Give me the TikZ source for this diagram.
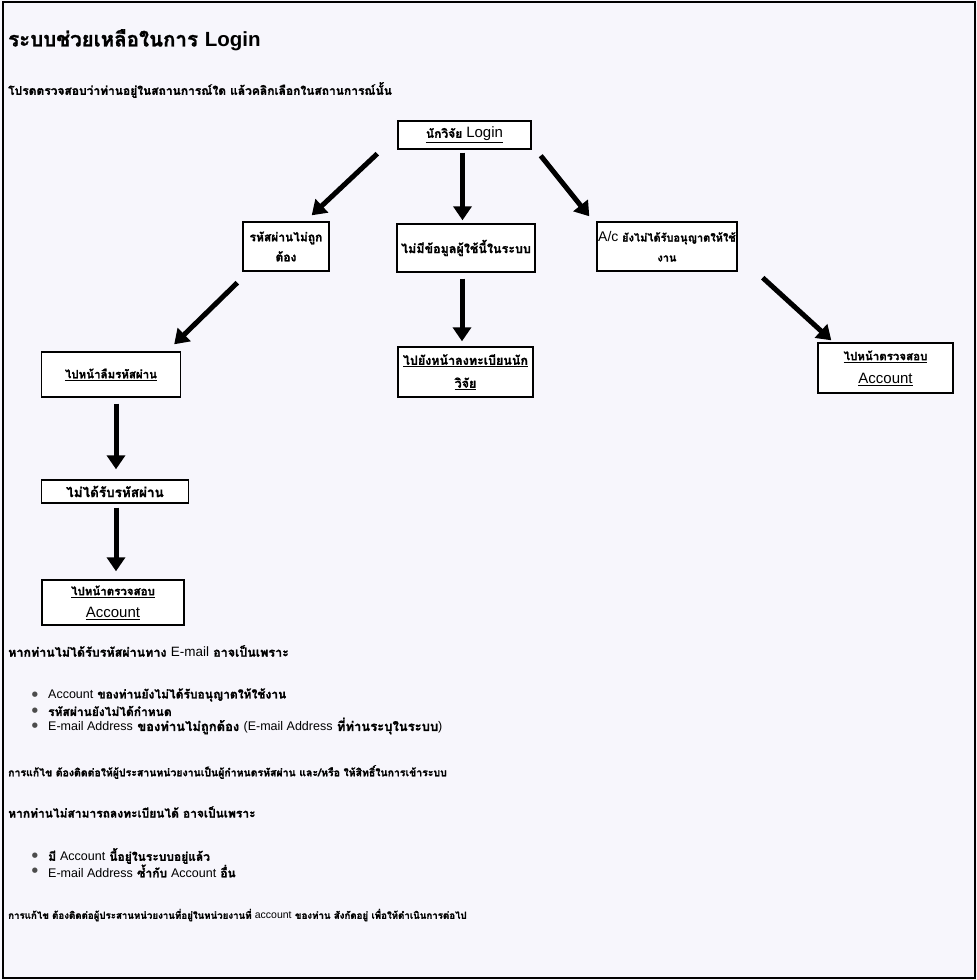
\documentclass[tikz,border=0pt]{standalone}
\usepackage{fontspec}
\setmainfont[Script=Thai, BoldFeatures={FakeBold=1.3}]{Loma}
\newfontfamily\bulfont{DejaVu Sans}
\newfontfamily\latin{Liberation Sans}
\usetikzlibrary{arrows.meta}
\definecolor{paper}{RGB}{247,246,252}
\tikzset{
  box/.style={draw=black, line width=1.4pt, fill=white, inner sep=1pt, align=center,
    font=\bfseries\fontsize{12}{22}\selectfont},
  flow/.style={line width=5pt, -{Triangle[width=18pt,length=14pt]}},
  txt/.style={anchor=west, inner sep=0pt, font=\bfseries\fontsize{12}{13}\selectfont},
  bul/.style={anchor=center, inner sep=0pt, font=\bulfont\fontsize{7}{7}\selectfont, text=black!70},
}
\newcommand{\lat}[1]{{\latin\mdseries\fontsize{12.5}{13}\selectfont #1}}
\newcommand{\blat}[1]{{\latin\mdseries\fontsize{15}{22}\selectfont #1}}
\begin{document}
\begin{tikzpicture}[x=1pt,y=-1pt]
\useasboundingbox (0,0) rectangle (977,980);
\fill[paper] (0,0) rectangle (977,980);
\draw[line width=1.6pt] (3,2) rectangle (975,978);

% texts
\node[txt, font=\bfseries\fontsize{20.5}{22}\selectfont] (title) at (8,40) {ระบบช่วยเหลือในการ {\latin\bfseries Login}};
\node[txt] (sub) at (8,90) {โปรดตรวจสอบว่าท่านอยู่ในสถานการณ์ใด แล้วคลิกเลือกในสถานการณ์นั้น};

% nodes
\node[box, minimum width=133pt, minimum height=28pt] (top) at (464.5,135) {\underline{นักวิจัย \blat{Login}}};
\node[box, minimum width=86pt, minimum height=49pt, font=\bfseries\fontsize{12}{20}\selectfont] (l1) at (286,246.5) {รหัสผ่านไม่ถูก\\ต้อง};
\node[box, minimum width=138pt, minimum height=48pt, font=\bfseries\fontsize{12.5}{20}\selectfont] (m1) at (466,248) {ไม่มีข้อมูลผู้ใช้นี้ในระบบ};
\node[box, minimum width=140pt, minimum height=49pt, font=\bfseries\fontsize{11}{20}\selectfont] (r1) at (667,246.5) {{\latin\mdseries\fontsize{14}{20}\selectfont A/c} ยังไม่ได้รับอนุญาตให้ใช้\\งาน};
\node[box, minimum width=139pt, minimum height=45pt, font=\bfseries\fontsize{11.5}{22}\selectfont] (l2) at (111,374.5) {\underline{ไปหน้าลืมรหัสผ่าน}};
\node[box, minimum width=135pt, minimum height=50pt, font=\bfseries\fontsize{12.5}{23}\selectfont] (m2) at (465.5,372) {\underline{ไปยังหน้าลงทะเบียนนัก}\\\underline{วิจัย}};
\node[box, minimum width=135pt, minimum height=50pt, font=\bfseries\fontsize{11.5}{23}\selectfont] (r2) at (885.5,368) {\underline{ไปหน้าตรวจสอบ}\\\underline{\blat{Account}}};
\node[box, minimum width=147pt, minimum height=23pt, font=\bfseries\fontsize{13.5}{15}\selectfont] (l3) at (115,491.5) {ไม่ได้รับรหัสผ่าน};
\node[box, minimum width=142pt, minimum height=45pt, font=\bfseries\fontsize{11.5}{22}\selectfont] (l4) at (113,602.5) {\underline{ไปหน้าตรวจสอบ}\\\underline{\blat{Account}}};

% arrows
\draw[flow] ([xshift=-20pt,yshift=-4pt]top.south west) -- ([xshift=-18pt,yshift=6pt]l1.north east);
\draw[flow, shorten <=3pt, shorten >=3pt] ([xshift=-2pt]top.south) -- ([xshift=-2pt]top.south |- m1.north);
\draw[flow] ([xshift=9pt,yshift=-6pt]top.south east) -- ([xshift=-7pt,yshift=5pt]r1.north west);
\draw[flow] ([xshift=-5pt,yshift=-11pt]l1.south west) -- ([xshift=-7pt,yshift=7pt]l2.north east);
\draw[flow, shorten <=6pt, shorten >=5pt] ([xshift=-4pt]m1.south) -- ([xshift=-4pt]m1.south |- m2.north);
\draw[flow] ([xshift=25pt,yshift=-6pt]r1.south east) -- ([xshift=14pt,yshift=2pt]r2.north west);
\draw[flow, shorten <=6pt, shorten >=10pt] ([xshift=5pt]l2.south) -- ([xshift=5pt]l2.south |- l3.north);
\draw[flow, shorten <=4pt, shorten >=8pt] ([xshift=1pt]l3.south) -- ([xshift=1pt]l3.south |- l4.north);

% lower text
\node[txt, font=\bfseries\fontsize{12.5}{13}\selectfont] (s1) at (8,651) {หากท่านไม่ได้รับรหัสผ่านทาง {\latin\mdseries\fontsize{13.5}{13}\selectfont E-mail} อาจเป็นเพราะ};
\node[bul] (d1) at (35,695) {●};
\node[txt] (b1) at (48,695) {\lat{Account} ของท่านยังไม่ได้รับอนุญาตให้ใช้งาน};
\node[bul] (d2) at (35,711) {●};
\node[txt] (b2) at (48,711) {รหัสผ่านยังไม่ได้กำหนด};
\node[bul] (d3) at (35,726) {●};
\node[txt, font=\bfseries\fontsize{13}{13}\selectfont] (b3) at (48,726) {\lat{E-mail Address} ของท่านไม่ถูกต้อง \lat{(E-mail Address} ที่ท่านระบุในระบบ\lat{)}};
\node[txt, font=\bfseries\fontsize{10.5}{13}\selectfont] (f1) at (8,772) {การแก้ไข ต้องติดต่อให้ผู้ประสานหน่วยงานเป็นผู้กำหนดรหัสผ่าน และ/หรือ ให้สิทธิ์ในการเข้าระบบ};
\node[txt] (s2) at (8,812) {หากท่านไม่สามารถลงทะเบียนได้ อาจเป็นเพราะ};
\node[bul] (d4) at (35,856) {●};
\node[txt] (b4) at (48,856) {มี \lat{Account} นี้อยู่ในระบบอยู่แล้ว};
\node[bul] (d5) at (35,871) {●};
\node[txt] (b5) at (48,871) {\lat{E-mail Address} ซ้ำกับ \lat{Account} อื่น};
\node[txt, font=\bfseries\fontsize{9.7}{13}\selectfont] (f2) at (8,915) {การแก้ไข ต้องติดต่อผู้ประสานหน่วยงานที่อยู่ในหน่วยงานที่ {\latin\mdseries\fontsize{10.5}{13}\selectfont account} ของท่าน สังกัดอยู่ เพื่อให้ดำเนินการต่อไป};
\end{tikzpicture}
\end{document}
